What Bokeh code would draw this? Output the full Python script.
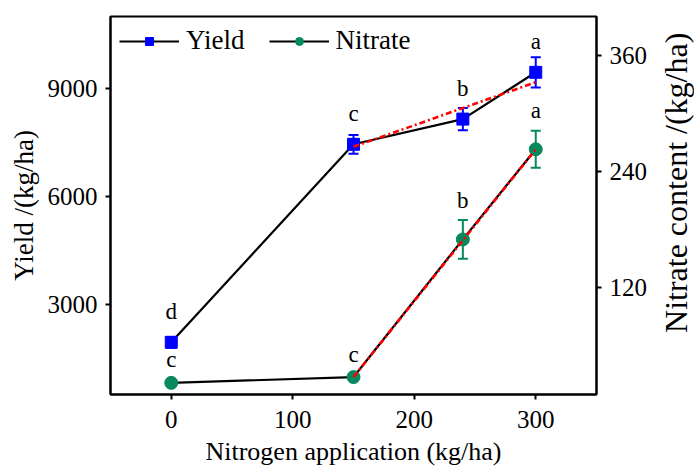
import math
from bokeh.plotting import figure
from bokeh.layouts import row
from bokeh.models import (ColumnDataSource, Range1d, LinearAxis, FixedTicker,
                          Whisker, TeeHead, Legend, LegendItem)
from bokeh.core.properties import value
from bokeh.embed import file_html
from bokeh.resources import INLINE

# ---- data ----
nitrogen = [0, 150, 240, 300]
yield_mean = [1950, 7450, 8150, 9450]
yield_err = [150, 260, 310, 420]
nitrate_mean = [22, 28, 170, 263]
nitrate_err = [3, 3, 20, 19]
yield_letters = ["d", "c", "b", "a"]
nitrate_letters = ["c", "c", "b", "a"]
fit_x = [150, 300]
yield_fit = [7380, 9175]
nitrate_fit = [28, 263]
x_ticks = [0, 100, 200, 300]
yield_ticks = [3000, 6000, 9000]
nitrate_ticks = [120, 240, 360]
right_title = ["Nitrate content /(kg/ha)"]

FONT = "Liberation Serif"
BLUE = "#0000ff"
GREEN = "#07885e"

ys = ColumnDataSource(dict(
    x=nitrogen, y=yield_mean,
    lo=[m - e for m, e in zip(yield_mean, yield_err)],
    hi=[m + e for m, e in zip(yield_mean, yield_err)],
    lab=yield_letters))
ns = ColumnDataSource(dict(
    x=nitrogen, y=nitrate_mean,
    lo=[m - e for m, e in zip(nitrate_mean, nitrate_err)],
    hi=[m + e for m, e in zip(nitrate_mean, nitrate_err)],
    lab=nitrate_letters))

p = figure(width=650, height=468, output_backend="svg", toolbar_location=None,
           x_range=Range1d(-50, 350), y_range=Range1d(500, 11000),
           min_border_left=110, min_border_right=53, min_border_top=16,
           min_border_bottom=72)
p.extra_y_ranges = {"nit": Range1d(10, 400)}

p.xgrid.visible = False
p.ygrid.visible = False
p.outline_line_color = "black"
p.outline_line_width = 2
p.background_fill_color = "white"
p.border_fill_color = "white"

right = LinearAxis(y_range_name="nit")
p.add_layout(right, "right")

p.xaxis.ticker = FixedTicker(ticks=x_ticks)
p.yaxis[0].ticker = FixedTicker(ticks=yield_ticks)
right.ticker = FixedTicker(ticks=nitrate_ticks)

p.xaxis.axis_label = "Nitrogen application (kg/ha)"
p.yaxis[0].axis_label = "Yield /(kg/ha)"

for ax in [p.xaxis[0], p.yaxis[0], right]:
    ax.axis_line_width = 2
    ax.axis_line_color = "black"
    ax.major_tick_line_width = 2
    ax.major_tick_out = 5
    ax.major_tick_in = 0
    ax.minor_tick_out = 0
    ax.minor_tick_in = 0
    ax.major_label_text_font = FONT
    ax.major_label_text_font_size = "25px"
    ax.major_label_text_color = "black"
    ax.axis_label_text_font = FONT
    ax.axis_label_text_font_style = "normal"
    ax.axis_label_text_color = "black"
    ax.axis_label_standoff = 6
p.xaxis.major_label_standoff = 11
p.yaxis[0].major_label_standoff = 8
right.major_label_standoff = 8
p.xaxis.axis_label_text_font_size = "26px"
p.yaxis[0].axis_label_text_font_size = "27px"

# lines
yl = p.line("x", "y", source=ys, line_color="black", line_width=2.2)
nl = p.line("x", "y", source=ns, line_color="black", line_width=2.2, y_range_name="nit")

# markers
ym = p.scatter("x", "y", source=ys, marker="square", size=12, fill_color=BLUE,
               line_color=BLUE)
nm = p.scatter("x", "y", source=ns, marker="circle", size=13, fill_color=GREEN,
               line_color=GREEN, y_range_name="nit")

# error bars
yw = Whisker(source=ys, base="x", lower="lo", upper="hi", line_color=BLUE, line_width=2,
             upper_head=TeeHead(size=10, line_color=BLUE, line_width=2),
             lower_head=TeeHead(size=10, line_color=BLUE, line_width=2))
nw = Whisker(source=ns, base="x", lower="lo", upper="hi", line_color=GREEN, line_width=2,
             upper_head=TeeHead(size=10, line_color=GREEN, line_width=2),
             lower_head=TeeHead(size=10, line_color=GREEN, line_width=2),
             y_range_name="nit")
p.add_layout(yw)
p.add_layout(nw)

# fit lines
p.line(fit_x, yield_fit, line_color="#ff0000", line_width=2.6, line_dash="6 3 2 3")
p.line(fit_x, nitrate_fit, line_color="#ff0000", line_width=2.6, line_dash="6 3 2 3",
       y_range_name="nit")

# significance letters
p.text("x", "y", text="lab", source=ys, text_font=value(FONT), text_font_size="23px",
       text_align="center", text_baseline="middle", y_offset=-31, text_color="black")
p.text("x", "hi", text="lab", source=ns, text_font=value(FONT), text_font_size="23px",
       text_align="center", text_baseline="middle", y_offset=-20, text_color="black",
       y_range_name="nit")

legend = Legend(items=[LegendItem(label="Yield", renderers=[yl, ym]),
                       LegendItem(label="Nitrate", renderers=[nl, nm])],
                location="top_left", orientation="horizontal")
legend.label_text_font = FONT
legend.label_text_font_size = "27px"
legend.label_text_color = "black"
legend.border_line_color = None
legend.background_fill_alpha = 0
legend.glyph_width = 60
legend.glyph_height = 20
legend.label_standoff = 7
legend.spacing = 24
legend.margin = 9
legend.padding = 3
p.add_layout(legend)

# right-hand axis title (reads bottom-to-top), drawn in a narrow strip
t = figure(width=44, height=468, output_backend="svg", toolbar_location=None,
           x_range=Range1d(0, 1), y_range=Range1d(0, 1), min_border=0)
t.axis.visible = False
t.grid.visible = False
t.outline_line_color = None
t.background_fill_color = "white"
t.border_fill_color = "white"
t.text(x=[0.58], y=[0.56], text=right_title, angle=math.pi / 2,
       text_font=value(FONT), text_font_size="32px", text_align="center",
       text_baseline="middle", text_color="black")

layout = row(p, t, spacing=0)
open("out.html", "w").write(file_html(layout, INLINE))
